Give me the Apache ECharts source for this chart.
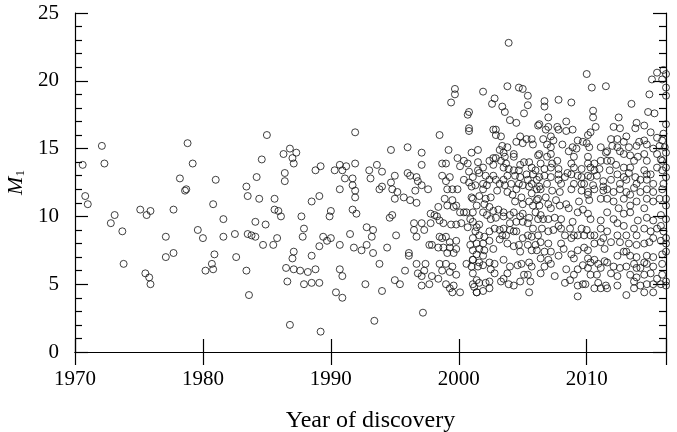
<!DOCTYPE html>
<html>
<head>
<meta charset="utf-8">
<script src="https://cdn.jsdelivr.net/npm/echarts@6/dist/echarts.min.js"></script>
<style>
  html, body { margin: 0; padding: 0; background: #fff; }
  #chart { width: 677px; height: 432px; }
</style>
</head>
<body>
<div id="chart"></div>
<script>
// [year, M1], grouped by period
const points1970s = [
  [1972.1,15.2],[1970.6,13.8],[1972.3,13.9],[1970.8,11.5],[1971.0,10.9],[1973.1,10.1],[1972.8,9.5],
  [1973.7,8.9],[1973.8,6.5],[1975.1,10.5],[1975.6,10.1],[1975.9,10.4],[1975.5,5.8],[1975.8,5.5],
  [1975.9,5.0],[1977.7,10.5],[1977.1,8.5],[1977.7,7.3],[1977.1,7.0],[1978.8,15.4],[1979.2,13.9],
  [1978.2,12.8],[1978.6,11.9],[1978.7,12.0],[1979.6,9.0],[1980.0,8.4],[1980.2,6.0]
];
const points1980s = [
  [1985.0,16.0],[1986.8,15.0],[1987.3,14.7],[1986.3,14.6],[1987.0,14.3],[1987.1,13.9],[1984.6,14.2],
  [1986.4,13.2],[1986.4,12.6],[1984.2,12.9],[1981.0,12.7],[1983.4,12.2],[1983.5,11.5],[1984.4,11.3],
  [1985.6,11.3],[1980.8,10.9],[1988.8,13.4],[1989.2,13.7],[1988.5,11.1],[1989.1,11.5],[1985.6,10.5],
  [1985.9,10.4],[1986.1,10.0],[1981.6,9.8],[1984.1,9.6],[1984.9,9.4],[1987.7,10.0],[1987.9,9.1],
  [1982.5,8.7],[1981.6,8.5],[1983.5,8.7],[1983.8,8.6],[1984.1,8.5],[1984.7,7.9],[1985.5,7.9],
  [1985.8,8.4],[1987.8,8.5],[1989.4,8.5],[1989.7,8.2],[1989.1,7.8],[1987.1,7.4],[1987.0,6.9],
  [1988.5,7.1],[1980.9,7.2],[1982.6,7.0],[1980.7,6.5],[1980.8,6.1],[1983.4,6.0],[1986.5,6.2],
  [1987.1,6.1],[1987.6,6.0],[1988.2,5.9],[1988.8,6.1],[1986.6,5.2],[1987.9,5.0],[1988.5,5.1],
  [1989.1,5.1],[1983.6,4.2],[1986.8,2.0],[1989.2,1.5]
];
const points1990s = [
  [1990.3,13.4],[1990.7,13.8],[1990.9,13.4],[1990.7,12.0],[1990.0,10.4],[1989.9,10.0],[1990.0,8.4],
  [1990.7,7.9],[1990.7,6.1],[1990.9,5.6],[1990.4,4.4],[1990.9,4.0],
  [1999.4,18.4],[1991.9,16.2],[1998.5,16.0],[1994.7,14.9],[1996.0,15.1],[1997.1,14.7],[1999.2,14.9],
  [1997.1,13.8],[1991.2,13.7],[1991.9,13.9],[1993.6,13.8],[1993.0,13.4],[1994.0,13.3],[1991.1,12.8],
  [1991.7,12.8],[1991.7,12.3],[1991.9,11.9],[1991.9,11.4],[1993.1,12.8],[1995.0,13.0],[1996.0,13.2],
  [1996.2,13.0],[1996.7,12.9],[1996.8,12.6],[1997.1,12.3],[1997.6,12.0],[1996.6,11.9],[1994.0,12.2],
  [1993.8,12.0],[1994.7,12.5],[1994.8,12.0],[1995.2,11.8],[1995.0,11.3],[1995.7,11.4],[1996.2,11.2],
  [1996.7,11.0],[1998.7,13.9],[1999.0,13.9],[1998.7,13.0],[1999.0,12.6],[1999.3,12.9],[1999.1,12.0],
  [1999.5,12.0],[1999.9,12.0],[1991.7,10.5],[1992.0,10.2],[1994.6,9.9],[1994.8,10.1],[1992.8,9.2],
  [1993.3,9.0],[1993.2,8.5],[1991.5,8.7],[1995.1,8.6],[1991.8,7.7],[1992.4,7.5],[1992.8,7.9],
  [1993.3,7.3],[1994.4,7.7],[1996.1,7.3],[1996.1,7.1],[1996.5,9.5],[1997.1,9.5],[1996.5,9.0],
  [1996.7,8.5],[1997.3,9.0],[1997.8,9.5],[1997.8,10.2],[1998.1,10.1],[1993.8,6.5],[1995.8,6.0],
  [1996.7,6.5],[1996.8,5.8],[1997.4,6.5],[1997.1,5.6],[1997.3,6.0],[1997.9,5.6],[1997.1,4.9],
  [1997.7,5.0],[1998.4,5.4],[1992.7,5.0],[1994.0,4.5],[1995.0,5.3],[1995.4,5.0],[1997.2,2.9],
  [1993.4,2.3],[1998.4,10.7],[1998.3,10.0],[1998.5,9.7],[1998.9,11.3],[1999.1,10.8],[1999.5,11.2],
  [1999.6,10.7],[1999.8,10.8],[1998.8,9.5],[1999.4,9.4],[1999.8,9.4],[1998.5,8.5],[1998.7,8.4],
  [1999.0,8.5],[1999.3,8.1],[1999.8,8.2],[1997.7,7.9],[1997.9,7.9],[1998.4,7.7],[1998.8,7.7],
  [1999.3,7.7],[1999.8,7.6],[1999.1,7.3],[1999.6,7.3],[1998.5,6.5],[1999.0,6.5],[1999.5,6.3],
  [1998.7,6.0],[1999.3,5.9],[1999.8,5.7],[1999.0,5.0],[1999.3,4.7],[1999.6,4.9],[1999.5,4.4],
  [1999.9,14.3],[1999.7,19.4],[1999.7,19.0]
];
const points2000to2005 = [
  [2000.7,17.5],[2000.8,16.5],[2000.8,16.3],[2000.8,17.7],[2000.1,10.3],[2000.4,10.3],[2000.6,10.3],
  [2000.2,9.5],[2000.7,9.2],[2000.1,4.4],[2000.6,6.5],[2001.1,6.8],[2001.1,5.8],[2001.4,5.3],
  [2001.2,4.8],[2001.4,4.4],[2000.4,14.1],[2000.1,13.7],[2000.7,13.9],[2000.8,13.3],[2000.4,12.7],
  [2000.8,12.5],[2001.0,12.2],[2001.0,11.4],[2001.5,14.0],[2001.0,14.7],[2001.5,14.9],
  [2003.9,22.8],[2001.9,19.2],[2003.8,19.6],[2004.7,19.5],[2005.0,19.4],[2005.4,18.9],[2002.8,18.7],
  [2002.6,18.3],[2003.4,18.1],[2003.6,17.7],[2005.4,18.2],[2005.1,17.6],[2004.0,17.1],[2004.5,16.9],
  [2002.7,16.4],[2002.9,16.4],[2002.9,16.0],[2003.3,15.9],[2004.8,15.9],[2004.5,15.5],[2005.3,15.7],
  [2005.7,15.7],[2005.0,15.4],[2005.8,15.3],[2003.4,15.2],[2003.8,15.1],[2003.2,14.9],[2003.5,14.7],
  [2003.6,14.4],[2004.3,14.4],[2002.7,14.3],[2002.9,14.3],[2002.7,13.8],[2003.3,14.1],[2003.5,13.6],
  [2001.9,13.6],[2001.5,13.4],[2004.8,13.8],[2004.7,13.4],[2005.1,14.0],[2005.5,14.0],[2005.7,13.6],
  [2003.9,13.5],[2004.3,13.4],[2003.8,13.0],[2004.4,13.0],[2001.6,13.2],[2002.1,13.0],[2002.4,12.7],
  [2002.7,13.0],[2001.1,12.9],[2002.9,12.7],[2003.2,12.4],[2003.5,12.7],[2003.6,12.3],[2004.1,12.4],
  [2004.7,12.4],[2005.4,12.7],[2005.7,12.4],[2005.0,12.3],[2005.5,12.2],[2001.9,12.4],[2002.2,12.3],
  [2001.3,12.3],[2001.9,12.0],[2003.0,11.9],[2003.8,11.8],[2004.5,12.0],[2005.7,11.7],
  [2001.1,11.3],[2001.6,11.5],[2002.1,11.3],[2002.5,11.4],[2002.0,10.9],[2002.4,10.7],[2002.7,10.4],
  [2003.1,10.5],[2003.5,10.3],[2004.2,11.6],[2004.4,11.1],[2004.9,11.4],[2005.0,10.9],[2005.5,11.1],
  [2005.8,10.8],[2002.2,10.1],[2002.5,9.8],[2002.9,9.9],[2003.5,10.0],[2004.0,10.1],[2004.3,10.3],
  [2004.8,10.0],[2005.0,10.2],[2005.5,9.9],[2004.5,9.6],[2005.0,9.6],[2005.4,9.5],[2004.0,9.5],
  [2000.9,9.8],[2001.1,9.6],[2001.4,9.2],[2001.6,9.4],[2001.3,8.9],[2002.8,9.1],[2003.2,9.0],
  [2003.5,9.1],[2004.0,9.0],[2004.3,8.9],[2003.4,8.6],[2003.7,8.6],[2003.2,8.3],[2001.1,8.4],
  [2001.6,8.6],[2002.0,8.5],[2002.4,8.2],[2001.4,8.0],[2001.9,8.0],[2000.9,7.9],[2001.6,7.6],
  [2001.1,7.5],[2002.0,7.5],[2005.0,8.4],[2005.7,8.5],[2003.8,8.0],[2004.3,7.8],[2004.7,7.9],
  [2005.4,7.9],[2005.7,7.5],[2001.4,7.2],[2001.9,7.1],[2001.1,6.8],[2001.6,6.6],[2001.0,6.3],
  [2001.5,6.3],[2001.9,6.4],[2002.8,6.5],[2003.5,6.8],[2002.5,6.1],[2002.8,5.8],[2004.0,6.3],
  [2004.6,6.4],[2004.9,6.5],[2005.5,6.6],[2005.7,6.3],[2003.8,5.8],[2003.5,5.4],[2003.3,5.2],
  [2003.9,5.0],[2005.1,5.7],[2005.4,5.7],[2005.6,5.2],[2005.5,4.4],[2001.1,5.0],[2001.6,5.1],
  [2002.1,5.1],[2001.4,4.4],[2001.9,4.5],[2002.4,4.7]
];
const points2006to2011 = [
  [2006.2,16.7],[2006.2,14.5],[2006.0,13.4],[2006.1,12.7],[2006.3,12.2],[2006.1,12.0],[2006.1,11.2],
  [2006.0,10.3],[2006.2,9.8],[2006.0,7.9],[2006.1,7.5],
  [2010.0,20.5],[2010.4,19.5],[2011.5,19.6],[2006.7,18.5],[2006.7,18.1],[2007.8,18.6],[2008.8,18.4],
  [2010.5,17.8],[2010.5,17.3],[2007.0,17.3],[2006.3,16.8],[2006.8,16.4],[2007.0,16.6],[2007.7,16.6],
  [2007.8,16.4],[2008.4,17.0],[2008.4,16.3],[2008.9,16.4],[2010.7,16.6],[2010.3,16.2],[2010.1,16.0],
  [2006.6,15.7],[2007.2,15.9],[2007.4,15.6],[2006.9,15.3],[2007.2,15.1],[2008.1,15.3],[2008.9,15.1],
  [2009.3,15.6],[2009.7,15.5],[2010.0,15.4],[2010.2,15.1],[2011.1,15.1],[2006.3,14.6],[2006.9,14.4],
  [2007.3,13.9],[2007.7,14.1],[2008.6,14.8],[2009.2,15.0],[2010.1,14.4],[2010.6,13.9],[2011.1,14.1],
  [2011.5,14.7],[2006.4,13.9],[2006.7,13.5],[2007.2,13.6],[2007.8,13.5],[2007.8,13.1],[2008.8,13.9],
  [2009.0,13.6],[2009.6,13.5],[2010.1,13.9],[2010.3,13.6],[2011.0,13.5],[2008.8,13.1],[2006.3,12.9],
  [2006.7,13.0],[2006.9,12.4],[2007.8,12.7],[2008.0,12.4],[2008.5,13.2],[2009.3,13.0],[2009.6,12.9],
  [2010.1,13.0],[2010.3,12.9],[2010.8,13.0],[2011.3,12.6],[2011.3,12.2],[2009.8,12.4],[2010.5,12.3],
  [2009.0,12.4],[2006.4,12.0],[2007.3,11.9],[2007.9,11.8],[2008.8,12.0],[2009.6,11.9],[2010.1,11.8],
  [2010.6,12.0],[2011.3,11.9],[2006.8,11.4],[2006.3,10.8],[2007.0,10.9],[2007.6,11.2],[2007.9,10.8],
  [2008.4,10.9],[2008.6,10.6],[2009.4,11.1],[2010.1,11.6],[2010.2,11.2],[2011.1,11.3],[2009.3,10.3],
  [2009.7,10.5],[2010.1,10.2],[2010.3,9.8],[2011.1,9.7],[2006.4,10.1],[2007.0,9.8],[2007.5,9.9],
  [2008.0,9.8],[2007.8,9.3],[2006.5,9.1],[2007.0,8.9],[2006.2,8.6],[2007.4,9.0],[2008.7,9.1],
  [2008.3,8.6],[2009.6,9.1],[2010.0,9.0],[2009.0,8.6],[2009.3,8.6],[2009.8,8.6],[2010.3,8.6],
  [2006.4,8.1],[2007.0,8.0],[2006.7,7.4],[2007.2,7.4],[2008.0,8.0],[2008.2,7.6],[2007.8,7.1],
  [2008.8,7.2],[2009.0,6.9],[2009.8,7.7],[2010.1,7.5],[2011.3,8.4],[2011.1,8.1],[2010.6,8.0],
  [2011.4,7.6],[2006.4,6.9],[2007.0,6.8],[2007.2,6.5],[2006.7,6.3],[2006.4,5.8],[2010.1,6.9],
  [2010.3,6.6],[2010.6,6.8],[2010.9,6.5],[2011.4,6.7],[2009.7,6.4],[2009.3,6.1],[2010.1,6.2],
  [2011.1,6.2],[2007.5,5.6],[2008.4,6.1],[2009.0,5.7],[2008.3,5.1],[2008.7,5.3],[2009.3,4.9],
  [2009.7,5.0],[2009.9,5.0],[2010.3,5.7],[2010.8,5.7],[2010.9,5.1],[2010.6,4.7],[2011.1,4.7],
  [2011.5,4.9],[2009.3,4.1]
];
const points2011to2016 = [
  [2015.5,20.6],[2016.0,20.8],[2016.2,20.5],[2015.1,20.1],[2015.9,20.1],[2016.2,19.5],[2016.2,18.9],
  [2014.9,19.0],[2013.5,18.3],[2014.8,17.7],[2015.3,17.6],[2012.5,17.3],[2012.1,16.6],[2012.6,16.5],
  [2013.9,16.9],[2013.8,16.5],[2014.5,16.7],[2015.0,16.2],[2016.2,16.8],[2016.0,16.1],[2015.5,15.8],
  [2015.9,15.6],[2011.9,15.7],[2012.4,15.7],[2013.1,15.9],[2012.9,15.5],[2012.0,15.2],[2012.4,15.1],
  [2013.3,15.1],[2013.9,15.2],[2014.1,15.5],[2014.7,15.3],[2015.2,15.0],[2015.7,15.2],[2016.1,15.1],
  [2011.6,14.8],[2012.6,14.8],[2012.9,14.6],[2013.4,14.5],[2013.7,14.1],[2014.0,14.4],[2014.5,14.6],
  [2014.7,14.1],[2015.5,14.6],[2015.8,14.2],[2016.2,14.7],[2011.6,14.1],[2012.3,13.8],[2011.8,13.4],
  [2012.9,13.6],[2012.4,13.1],[2013.3,13.2],[2013.8,12.9],[2014.5,13.4],[2015.0,13.1],[2015.5,13.6],
  [2015.9,13.4],[2016.2,12.9],[2013.1,12.7],[2013.9,12.4],[2014.7,12.7],[2015.2,12.4],[2016.0,12.4],
  [2011.9,12.7],[2012.6,12.4],[2011.6,12.0],[2012.1,11.8],[2012.6,12.0],[2013.1,11.8],[2013.7,12.1],
  [2014.2,11.8],[2014.7,12.0],[2015.2,11.8],[2015.9,12.0],[2012.1,11.1],[2012.9,11.3],[2013.4,10.8],
  [2013.9,11.1],[2014.5,10.6],[2015.2,11.1],[2015.7,11.3],[2016.2,10.8],[2011.6,10.3],[2012.1,9.8],
  [2012.4,9.5],[2012.9,10.2],[2013.4,10.3],[2014.0,9.7],[2014.7,9.9],[2015.2,9.7],[2015.8,10.1],
  [2016.2,9.8],[2014.5,9.1],[2015.0,8.9],[2015.5,9.1],[2016.0,8.9],[2011.6,8.9],[2012.4,8.6],
  [2013.1,8.6],[2011.9,8.1],[2012.6,8.1],[2013.3,8.0],[2013.9,7.9],[2014.5,8.0],[2014.9,8.1],
  [2015.2,8.4],[2015.8,8.2],[2016.2,8.0],[2012.4,7.1],[2012.9,7.4],[2013.4,7.1],[2013.9,7.0],
  [2014.7,7.1],[2015.2,7.0],[2015.9,7.2],[2016.2,7.4],[2011.6,6.6],[2012.1,6.3],[2012.6,6.2],
  [2013.1,6.3],[2013.7,6.5],[2014.2,6.2],[2014.7,6.5],[2015.2,6.3],[2015.9,6.5],[2011.9,5.8],
  [2012.4,5.6],[2013.4,5.7],[2013.9,5.5],[2014.5,5.7],[2015.0,5.8],[2015.5,5.4],[2016.2,5.2],
  [2013.7,5.2],[2014.2,4.9],[2014.7,5.0],[2015.2,5.0],[2011.6,4.7],[2013.1,4.2],[2015.8,5.0]
];
// circles half hidden in the crowded clusters after 2000
const pointsOverlapping = [
  [2006.2,11.3],[2007.2,10.6],[2006.6,9.8],[2008.0,9.1],[2008.9,9.6],[2008.8,8.4],[2009.3,7.5],
  [2011.1,9.1],[2010.6,8.6],[2001.4,10.8],[2001.9,10.3],[2001.1,10.3],[2002.4,8.9],[2002.7,7.6],
  [2004.8,7.4],[2004.5,8.9],[2005.4,8.6],[2005.8,9.1],[2002.4,6.6],[2004.8,5.2],[2004.3,4.9],
  [2002.4,5.2],[2016.2,8.4],[2014.5,6.6],[2013.9,6.2],[2015.9,5.7],[2016.2,4.9],[2012.4,4.9],
  [2013.7,4.7],[2015.2,4.4],[2014.5,4.4],[2013.1,7.4],[2015.8,9.3],[2012.9,9.3],[2013.7,9.1],
  [2013.9,8.6],[2011.6,11.3],[2013.4,11.6],[2014.7,11.3],[2016.2,11.3],[2012.5,10.6],[2011.9,14.1],
  [2014.7,13.1],[2014.2,12.7],[2013.4,13.6],[2016.2,13.6],[2015.9,14.1],[2014.5,15.6],[2012.9,12.9],
  [2002.4,14.1],[2003.7,13.9],[2005.3,13.1],[2005.8,13.1],[2004.8,12.9],[2004.3,14.6],[2007.2,12.9],
  [2009.6,12.4],[2008.3,12.9],[2010.6,13.4],[2009.0,14.4],[2007.2,14.6]
];

const xTicks = [1970, 1980, 1990, 2000, 2010];
const yTicks = [0, 5, 10, 15, 20, 25];

const allPoints = [].concat(points1970s, points1980s, points1990s,
  points2000to2005, points2006to2011, points2011to2016, pointsOverlapping);

const chart = echarts.init(document.getElementById('chart'));
const serif = 'Liberation Serif';
const axisLine = { show: true, lineStyle: { color: '#000', width: 1.2 } };
const majorTick = { show: true, inside: true, length: 13, lineStyle: { color: '#000', width: 1.2 } };
const xBase = {
  type: 'value', min: 1970, max: 2016.2, interval: 10,
  axisLine: axisLine, axisTick: majorTick, splitLine: { show: false }
};
const yBase = {
  type: 'value', min: 0, max: 25, interval: 5,
  axisLine: axisLine, axisTick: majorTick, splitLine: { show: false },
  minorTick: { show: true, splitNumber: 5, length: 7, lineStyle: { color: '#000', width: 1.2 } },
  minorSplitLine: { show: false }
};

chart.setOption({
  animation: false,
  backgroundColor: '#fff',
  grid: { left: 75, right: 11, top: 13, bottom: 80, containLabel: false, outerBoundsMode: 'none' },
  xAxis: [
    Object.assign({}, xBase, {
      position: 'bottom',
      name: 'Year of discovery',
      nameLocation: 'middle',
      nameGap: 57,
      nameTextStyle: { fontFamily: serif, fontSize: 24, color: '#000' },
      axisLabel: {
        fontFamily: serif, fontSize: 21, color: '#000', margin: 17,
        formatter: v => (xTicks.indexOf(v) >= 0 ? String(v) : '')
      }
    }),
    Object.assign({}, xBase, { position: 'top', axisLabel: { show: false } })
  ],
  yAxis: [
    Object.assign({}, yBase, {
      position: 'left',
      name: '{i|M}{s|1}',
      nameLocation: 'middle',
      nameGap: 48,
      nameRotate: 90,
      nameTextStyle: {
        color: '#000',
        rich: {
          i: { fontFamily: serif, fontStyle: 'italic', fontSize: 22, color: '#000' },
          s: { fontFamily: serif, fontSize: 13, color: '#000', verticalAlign: 'bottom', padding: [8, 0, 0, 0] }
        }
      },
      axisLabel: {
        fontFamily: serif, fontSize: 21, color: '#000', margin: 16,
        formatter: v => (yTicks.indexOf(v) >= 0 ? String(v) : '')
      }
    }),
    Object.assign({}, yBase, { position: 'right', axisLabel: { show: false } })
  ],
  series: [{
    type: 'scatter',
    xAxisIndex: 0,
    yAxisIndex: 0,
    data: allPoints,
    symbol: 'circle',
    symbolSize: 7,
    itemStyle: { color: 'rgba(0,0,0,0)', borderColor: '#111', borderWidth: 1 },
    emphasis: { disabled: true }
  }]
});
</script>
</body>
</html>
